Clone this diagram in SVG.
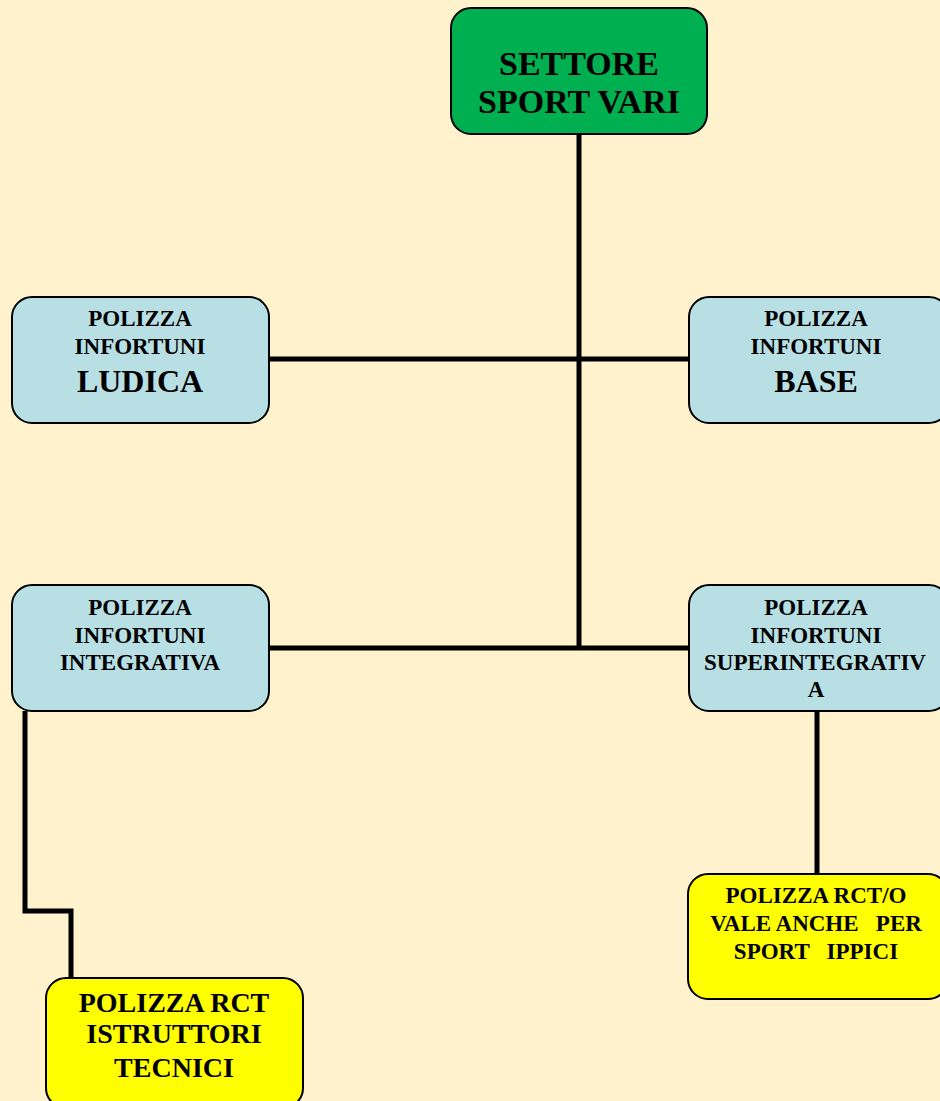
<svg xmlns="http://www.w3.org/2000/svg" width="940" height="1101" viewBox="0 0 940 1101">
<style>
.bg{fill:#FFF2CC}
.box{stroke:#000;stroke-width:2}
.g{fill:#00B050}
.b{fill:#B7DFE4}
.y{fill:#FFFF00}
.t{font-family:"Liberation Serif","Times New Roman",serif;font-weight:bold;fill:#000;text-anchor:middle;white-space:pre}
.c{fill:none;stroke:#000;stroke-width:5;stroke-linecap:butt;stroke-linejoin:miter}
</style>
<rect class="bg" x="0" y="0" width="940" height="1101"/>
<g id="connectors">
<path class="c" d="M579,134 V650"/>
<path class="c" d="M269,359 H689"/>
<path class="c" d="M269,648 H689"/>
<path class="c" d="M817,711 V875"/>
<path class="c" d="M25,711 V911 H71 V979"/>
</g>
<g id="settore">
<rect class="box g" x="451" y="8" width="256" height="126" rx="20"/>
<text class="t" x="579" y="75" font-size="34">SETTORE</text>
<text class="t" x="579" y="113" font-size="34">SPORT VARI</text>
</g>
<g id="ludica">
<rect class="box b" x="12" y="297" width="257" height="126" rx="20"/>
<text class="t" x="140" y="326" font-size="23">POLIZZA</text>
<text class="t" x="140" y="354" font-size="23">INFORTUNI</text>
<text class="t" x="140" y="392" font-size="32">LUDICA</text>
</g>
<g id="base">
<rect class="box b" x="689" y="297" width="260" height="126" rx="20"/>
<text class="t" x="816" y="326" font-size="23">POLIZZA</text>
<text class="t" x="816" y="354" font-size="23">INFORTUNI</text>
<text class="t" x="816" y="392" font-size="32">BASE</text>
</g>
<g id="integrativa">
<rect class="box b" x="12" y="585" width="257" height="126" rx="20"/>
<text class="t" x="140" y="615" font-size="23">POLIZZA</text>
<text class="t" x="140" y="643" font-size="23">INFORTUNI</text>
<text class="t" x="140" y="670" font-size="23">INTEGRATIVA</text>
</g>
<g id="superintegrativa">
<rect class="box b" x="689" y="585" width="260" height="126" rx="20"/>
<text class="t" x="816" y="615" font-size="23">POLIZZA</text>
<text class="t" x="816" y="643" font-size="23">INFORTUNI</text>
<text class="t" x="815" y="670" font-size="23">SUPERINTEGRATIV</text>
<text class="t" x="816" y="697" font-size="23">A</text>
</g>
<g id="rcto">
<rect class="box y" x="688" y="874" width="260" height="125" rx="20"/>
<text class="t" x="816" y="903" font-size="23">POLIZZA RCT/O</text>
<text class="t" x="816" y="931" font-size="23">VALE ANCHE   PER</text>
<text class="t" x="816" y="959" font-size="23">SPORT   IPPICI</text>
</g>
<g id="rct-istruttori">
<rect class="box y" x="46" y="978" width="257" height="130" rx="20"/>
<text class="t" x="174" y="1012" font-size="28">POLIZZA RCT</text>
<text class="t" x="174" y="1043" font-size="28">ISTRUTTORI</text>
<text class="t" x="174" y="1077" font-size="28">TECNICI</text>
</g>
</svg>
